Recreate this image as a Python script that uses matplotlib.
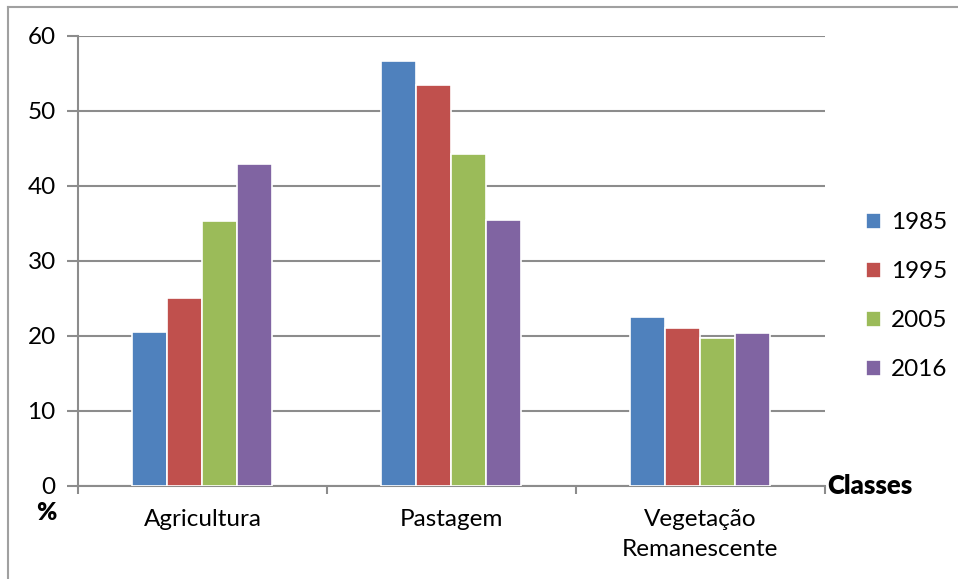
import numpy as np
import matplotlib.pyplot as plt
from matplotlib.lines import Line2D

# land use share per class and year (%)
classes = ['Agricultura', 'Pastagem', 'Vegetação\nRemanescente']
years = ['1985', '1995', '2005', '2016']
v1985 = [20.5, 56.6, 22.5]
v1995 = [25.0, 53.5, 21.1]
v2005 = [35.3, 44.2, 19.7]
v2016 = [42.9, 35.4, 20.4]
series = [v1985, v1995, v2005, v2016]
colors = ['#4F81BD', '#C0504D', '#9BBB59', '#8064A2']
y_ticks = [0, 10, 20, 30, 40, 50, 60]

plt.rcParams['font.family'] = ['Lato', 'DejaVu Sans']
grid_col = '#8c8c8c'
fs = 17.5

fig = plt.figure(figsize=(9.58, 5.79), dpi=100)
ax = fig.add_axes([0.0814, 0.161, 0.7796, 0.777])

x = np.arange(len(classes))
step = 0.1406
for i, (vals, col) in enumerate(zip(series, colors)):
    ax.bar(x + (i - 1.5) * step, vals, width=step, color=col,
           edgecolor='white', linewidth=1.2, label=years[i], zorder=3)

ax.set_xlim(-0.5, 2.5)
ax.set_ylim(0, 60)
ax.set_yticks(y_ticks)
ax.set_yticklabels([str(t) for t in y_ticks], fontsize=fs)
ax.yaxis.grid(True, color=grid_col, linewidth=1.5, zorder=0)

# category labels centred, tick marks on the boundaries
ax.set_xticks([-0.5, 0.5, 1.5, 2.5])
ax.set_xticklabels([])
ax.set_xticks(x, minor=True)
ax.set_xticklabels(classes, minor=True, fontsize=fs, linespacing=1.5)
ax.tick_params(axis='x', which='minor', length=0, pad=17)
ax.tick_params(axis='x', which='major', length=6, width=1.5, color=grid_col, direction='out')
ax.tick_params(axis='y', length=8, width=1.5, color=grid_col, pad=8)

for side in ['top', 'right']:
    ax.spines[side].set_visible(False)
for side in ['left', 'bottom']:
    ax.spines[side].set_color(grid_col)
    ax.spines[side].set_linewidth(1.5)

ax.text(1.003, 0.0, 'Classes', transform=ax.transAxes, fontsize=18.5,
        fontweight='heavy', ha='left', va='center')
ax.text(-0.043, -0.06, '%', transform=ax.transAxes, fontsize=fs,
        fontweight='heavy', ha='center', va='center')

ax.legend(loc='center left', bbox_to_anchor=(1.026, 0.421), frameon=False,
          fontsize=fs, handlelength=0.62, handleheight=0.62, handletextpad=0.4,
          labelspacing=1.15)

# outer frame of the chart area
fig.add_artist(Line2D([0.0084, 0.0084], [0.0, 0.988], transform=fig.transFigure,
                      color='#a0a0a0', linewidth=1.5))
fig.add_artist(Line2D([0.0084, 1.0], [0.988, 0.988], transform=fig.transFigure,
                      color='#a0a0a0', linewidth=1.5))

fig.savefig('out.png', dpi=100)
